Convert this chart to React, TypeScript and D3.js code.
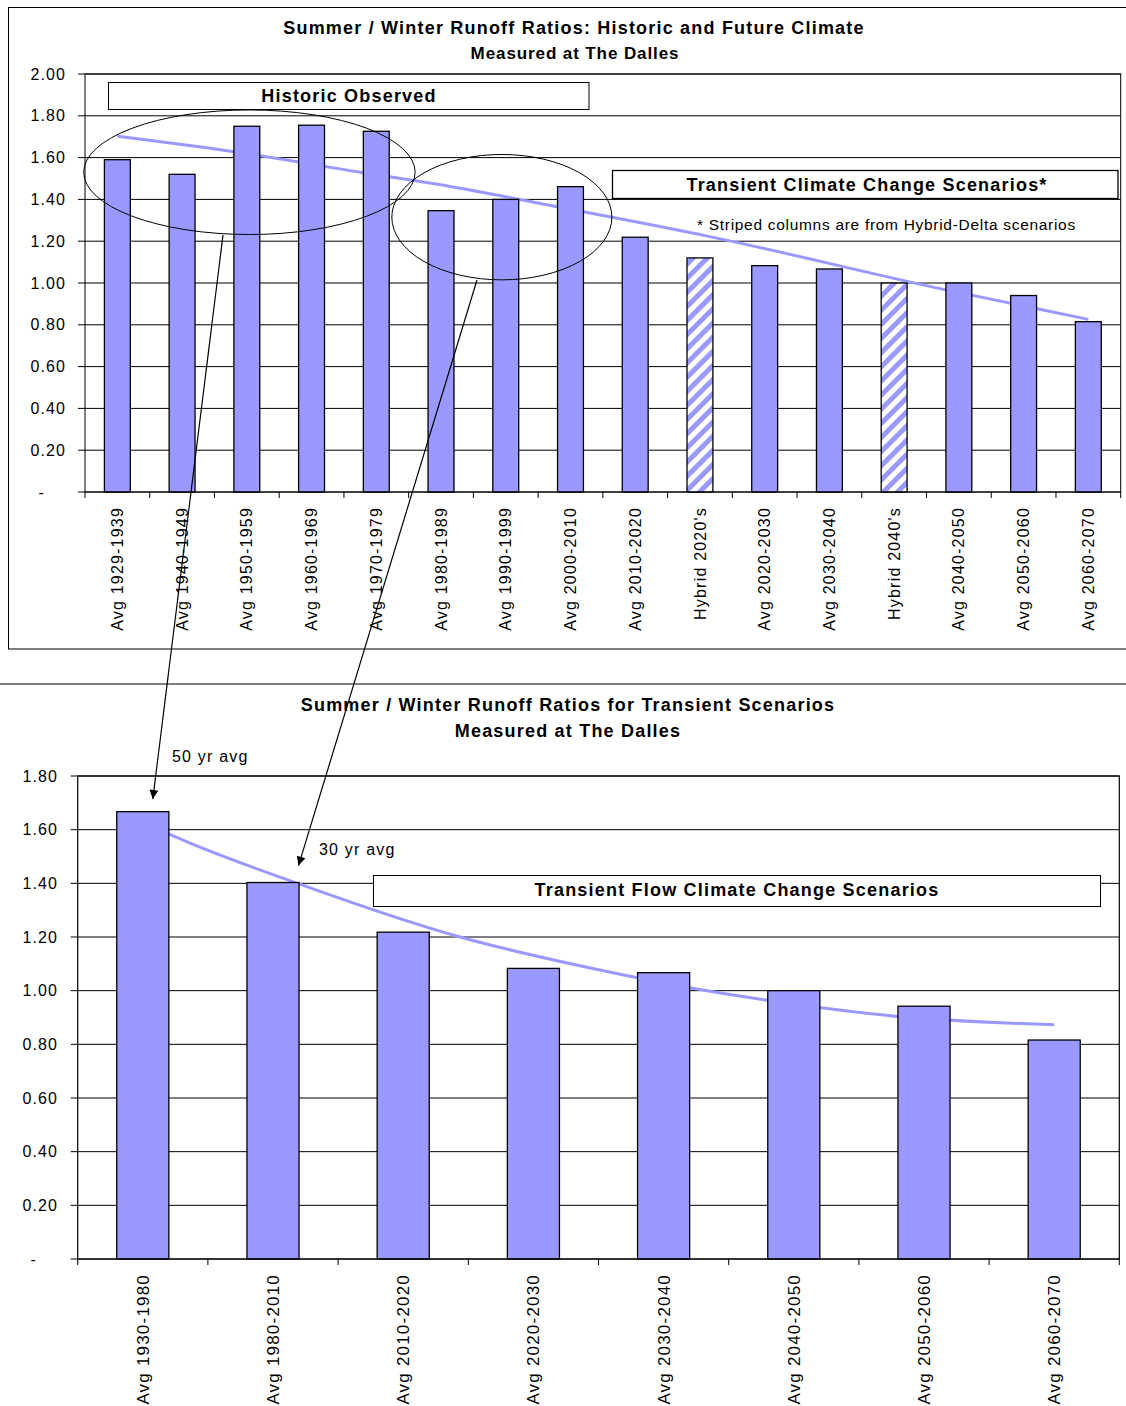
import React from "react";
import * as d3 from "d3";

// ---------------- DATA ----------------
const topCategories = [
  "Avg 1929-1939", "Avg 1940-1949", "Avg 1950-1959", "Avg 1960-1969",
  "Avg 1970-1979", "Avg 1980-1989", "Avg 1990-1999", "Avg 2000-2010",
  "Avg 2010-2020", "Hybrid 2020's", "Avg 2020-2030", "Avg 2030-2040",
  "Hybrid 2040's", "Avg 2040-2050", "Avg 2050-2060", "Avg 2060-2070",
];
const topValues = [1.59, 1.52, 1.75, 1.755, 1.726, 1.346, 1.40, 1.461, 1.219, 1.12, 1.083, 1.067, 1.0, 1.0, 0.94, 0.815];
const topIsHybrid = [false, false, false, false, false, false, false, false, false, true, false, false, true, false, false, false];
// trend line: [category index, value]
const topTrendIndex = [0, 1.8, 3.85, 5.14, 6.84, 9.15, 12.8, 15];
const topTrendValue = [1.702, 1.628, 1.525, 1.462, 1.362, 1.222, 0.967, 0.826];
const topYTicks = [0, 0.2, 0.4, 0.6, 0.8, 1.0, 1.2, 1.4, 1.6, 1.8, 2.0];

const bottomCategories = [
  "Avg 1930-1980", "Avg 1980-2010", "Avg 2010-2020", "Avg 2020-2030",
  "Avg 2030-2040", "Avg 2040-2050", "Avg 2050-2060", "Avg 2060-2070",
];
const bottomValues = [1.667, 1.403, 1.218, 1.083, 1.067, 1.0, 0.942, 0.816];
const bottomTrendIndex = [0, 0.2, 1.2, 2.43, 3.51, 4.2, 4.81, 5.82, 7];
const bottomTrendValue = [1.63, 1.584, 1.398, 1.201, 1.077, 1.011, 0.963, 0.903, 0.873];
const bottomYTicks = [0, 0.2, 0.4, 0.6, 0.8, 1.0, 1.2, 1.4, 1.6, 1.8];

const FONT = "'Liberation Sans', Arial, Helvetica, sans-serif";
const BAR = "#9999ff";

const fmt = (v: number) => (v === 0 ? "-" : d3.format(".2f")(v));

export default function App() {
  // ---------- top chart scales ----------
  const xTop = d3.scaleBand<string>().domain(topCategories).range([85, 1120.7]).paddingInner(0.6).paddingOuter(0.3);
  const yTop = d3.scaleLinear().domain([0, 2]).range([492, 74]);
  const tStep = xTop.step();
  const tIdx = (i: number) => (xTop(topCategories[0]) as number) + xTop.bandwidth() / 2 + i * tStep;
  const topTrend = d3
    .line<number>()
    .x((_, i) => tIdx(topTrendIndex[i]))
    .y((d) => yTop(d))
    .curve(d3.curveMonotoneX)(topTrendValue) as string;

  // ---------- bottom chart scales ----------
  const xBot = d3.scaleBand<string>().domain(bottomCategories).range([77.7, 1119.3]).paddingInner(0.6).paddingOuter(0.3);
  const yBot = d3.scaleLinear().domain([0, 1.8]).range([1259, 776]);
  const bStep = xBot.step();
  const bIdx = (i: number) => (xBot(bottomCategories[0]) as number) + xBot.bandwidth() / 2 + i * bStep;
  const botTrend = d3
    .line<number>()
    .x((_, i) => bIdx(bottomTrendIndex[i]))
    .y((d) => yBot(d))
    .curve(d3.curveMonotoneX)(bottomTrendValue) as string;

  const [tx0, tx1] = xTop.range();
  const [bx0, bx1] = xBot.range();

  // annotation ellipses (data space)
  const e1 = { cx: tIdx(2.04), cy: yTop(1.53), rx: 2.56 * tStep, ry: yTop(0) - yTop(0.298) };
  const e2 = { cx: tIdx(5.94), cy: yTop(1.315), rx: 1.7 * tStep, ry: yTop(0) - yTop(0.3) };

  return (
    <div style={{ position: "absolute", left: 0, top: 0 }}>
      <svg width={1126} height={1406} style={{ display: "block", background: "#fff" }} fontFamily={FONT}>
        <defs>
          <pattern id="stripes" patternUnits="userSpaceOnUse" width={10} height={10} patternTransform="rotate(45)">
            <rect width={10} height={10} fill="#fff" />
            <rect width={5} height={10} fill={BAR} />
          </pattern>
          <marker id="arrow" viewBox="0 0 10 10" refX={10} refY={5} markerUnits="userSpaceOnUse" markerWidth={12} markerHeight={9} orient="auto">
            <path d="M0,0 L10,5 L0,10 z" fill="#000" />
          </marker>
        </defs>

        {/* ================= TOP CHART ================= */}
        <rect x={8.5} y={7.5} width={1130} height={641.5} fill="none" stroke="#000" strokeWidth={1} />
        <text x={574} y={33.5} textAnchor="middle" fontWeight="bold" fontSize={18} letterSpacing={1.2}>
          Summer / Winter Runoff Ratios: Historic and Future Climate
        </text>
        <text x={575} y={58.5} textAnchor="middle" fontWeight="bold" fontSize={17} letterSpacing={0.9}>
          Measured at The Dalles
        </text>

        {/* gridlines */}
        {topYTicks.map((t) => (
          <line key={"tg" + t} x1={tx0} x2={tx1} y1={yTop(t)} y2={yTop(t)} stroke="#000" strokeWidth={1} />
        ))}
        {/* y ticks + labels */}
        {topYTicks.map((t) => (
          <g key={"ty" + t}>
            <line x1={tx0 - 7} x2={tx0} y1={yTop(t)} y2={yTop(t)} stroke="#000" />
            <text x={t === 0 ? 45 : 66} y={yTop(t)} dy="0.35em" textAnchor="end" fontSize={16} letterSpacing={1.1}>
              {fmt(t)}
            </text>
          </g>
        ))}
        {/* x ticks */}
        {d3.range(topCategories.length + 1).map((i) => (
          <line key={"tx" + i} x1={tx0 + i * tStep} x2={tx0 + i * tStep} y1={yTop(0)} y2={yTop(0) + 6} stroke="#000" />
        ))}

        {/* trend line */}
        <path d={topTrend} fill="none" stroke={BAR} strokeWidth={3} />

        {/* bars */}
        {topCategories.map((c, i) => (
          <rect
            key={"tb" + c}
            x={xTop(c)}
            y={yTop(topValues[i])}
            width={xTop.bandwidth()}
            height={yTop(0) - yTop(topValues[i])}
            fill={topIsHybrid[i] ? "url(#stripes)" : BAR}
            stroke="#000"
            strokeWidth={1.3}
          />
        ))}

        {/* plot frame */}
        <rect x={tx0} y={yTop(2)} width={tx1 - tx0} height={yTop(0) - yTop(2)} fill="none" stroke="#000" strokeWidth={1} />

        {/* x labels */}
        {topCategories.map((c) => (
          <text
            key={"tl" + c}
            transform={`translate(${(xTop(c) as number) + xTop.bandwidth() / 2},507) rotate(-90)`}
            dy="0.35em"
            textAnchor="end"
            fontSize={16}
            letterSpacing={1.2}
          >
            {c}
          </text>
        ))}

        {/* ellipses */}
        <ellipse cx={e1.cx} cy={e1.cy} rx={e1.rx} ry={e1.ry} fill="none" stroke="#000" strokeWidth={1} />
        <ellipse cx={e2.cx} cy={e2.cy} rx={e2.rx} ry={e2.ry} fill="none" stroke="#000" strokeWidth={1} />

        {/* annotation boxes */}
        <rect x={108.5} y={82.5} width={480.5} height={27} fill="#fff" stroke="#000" strokeWidth={1} />
        <text x={349} y={102} textAnchor="middle" fontWeight="bold" fontSize={18} letterSpacing={1.2}>
          Historic Observed
        </text>
        <rect x={612.5} y={170.5} width={505.5} height={28} fill="#fff" stroke="#000" strokeWidth={1.3} />
        <text x={867} y={191} textAnchor="middle" fontWeight="bold" fontSize={18} letterSpacing={1.2}>
          Transient Climate Change Scenarios*
        </text>
        <text x={697} y={229.5} fontSize={15.5} letterSpacing={0.7}>
          * Striped columns are from Hybrid-Delta scenarios
        </text>

        {/* ================= BOTTOM CHART ================= */}
        <line x1={0} x2={1126} y1={684} y2={684} stroke="#000" strokeWidth={1.2} />
        <text x={568} y={710.5} textAnchor="middle" fontWeight="bold" fontSize={18} letterSpacing={1.2}>
          Summer / Winter Runoff Ratios for Transient Scenarios
        </text>
        <text x={568} y={736.5} textAnchor="middle" fontWeight="bold" fontSize={18} letterSpacing={1.2}>
          Measured at The Dalles
        </text>

        {bottomYTicks.map((t) => (
          <line key={"bg" + t} x1={bx0} x2={bx1} y1={yBot(t)} y2={yBot(t)} stroke="#000" strokeWidth={1} />
        ))}
        {bottomYTicks.map((t) => (
          <g key={"by" + t}>
            <line x1={bx0 - 7} x2={bx0} y1={yBot(t)} y2={yBot(t)} stroke="#000" />
            <text x={t === 0 ? 37 : 58} y={yBot(t)} dy="0.35em" textAnchor="end" fontSize={16} letterSpacing={1.1}>
              {fmt(t)}
            </text>
          </g>
        ))}
        {d3.range(bottomCategories.length + 1).map((i) => (
          <line key={"bx" + i} x1={bx0 + i * bStep} x2={bx0 + i * bStep} y1={yBot(0)} y2={yBot(0) + 6} stroke="#000" />
        ))}

        <path d={botTrend} fill="none" stroke={BAR} strokeWidth={3} />

        {bottomCategories.map((c, i) => (
          <rect
            key={"bb" + c}
            x={xBot(c)}
            y={yBot(bottomValues[i])}
            width={xBot.bandwidth()}
            height={yBot(0) - yBot(bottomValues[i])}
            fill={BAR}
            stroke="#000"
            strokeWidth={1.3}
          />
        ))}

        <rect x={bx0} y={yBot(1.8)} width={bx1 - bx0} height={yBot(0) - yBot(1.8)} fill="none" stroke="#000" strokeWidth={1.2} />

        {bottomCategories.map((c) => (
          <text
            key={"bl" + c}
            transform={`translate(${(xBot(c) as number) + xBot.bandwidth() / 2},1274) rotate(-90)`}
            dy="0.35em"
            textAnchor="end"
            fontSize={17}
            letterSpacing={1.2}
          >
            {c}
          </text>
        ))}

        <rect x={373.5} y={875.5} width={727} height={31} fill="#fff" stroke="#000" strokeWidth={1} />
        <text x={737} y={896} textAnchor="middle" fontWeight="bold" fontSize={18} letterSpacing={1.2}>
          Transient Flow Climate Change Scenarios
        </text>

        <text x={172} y={762} fontSize={16} letterSpacing={1.2}>50 yr avg</text>
        <text x={319} y={855} fontSize={16} letterSpacing={1.2}>30 yr avg</text>

        {/* arrows linking the charts */}
        <line x1={223} y1={235} x2={bIdx(0) + 10} y2={yBot(1.714)} stroke="#000" strokeWidth={1.2} markerEnd="url(#arrow)" />
        <line x1={477} y1={280} x2={bIdx(1) + 25.5} y2={yBot(1.466)} stroke="#000" strokeWidth={1.2} markerEnd="url(#arrow)" />
      </svg>
    </div>
  );
}
